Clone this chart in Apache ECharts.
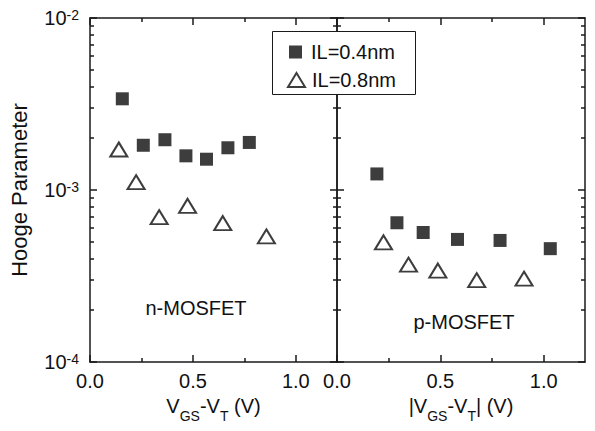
<!DOCTYPE html>
<html><head><meta charset="utf-8">
<script src="https://cdn.jsdelivr.net/npm/echarts@6/dist/echarts.min.js"></script>
<style>html,body{margin:0;padding:0;background:#fff}#c{width:595px;height:431px}</style>
</head><body><div id="c"></div>
<script>
// ---- data ----
const seriesNames = ['IL=0.4nm', 'IL=0.8nm'];
const panelLabels = ['n-MOSFET', 'p-MOSFET'];
const nX04 = [0.157, 0.259, 0.364, 0.466, 0.566, 0.670, 0.774];
const nY04 = [3.39e-3, 1.82e-3, 1.96e-3, 1.58e-3, 1.51e-3, 1.76e-3, 1.89e-3];
const nX08 = [0.140, 0.224, 0.336, 0.474, 0.645, 0.857];
const nY08 = [1.72e-3, 1.11e-3, 6.95e-4, 8.09e-4, 6.42e-4, 5.37e-4];
const pX04 = [0.193, 0.290, 0.417, 0.583, 0.789, 1.032];
const pY04 = [1.24e-3, 6.45e-4, 5.66e-4, 5.16e-4, 5.09e-4, 4.56e-4];
const pX08 = [0.225, 0.346, 0.488, 0.676, 0.905];
const pY08 = [4.96e-4, 3.68e-4, 3.40e-4, 2.99e-4, 3.05e-4];
const xMajor = [0, 0.5, 1.0];
const xMinor = [0.25, 0.75];
const yMajor = [1e-4, 1e-3, 1e-2];
const yMinor = [2e-4, 3e-4, 4e-4, 5e-4, 6e-4, 7e-4, 8e-4, 9e-4, 2e-3, 3e-3, 4e-3, 5e-3, 6e-3, 7e-3, 8e-3, 9e-3];
const xNames = ['{n|V}{s|GS}{n|-V}{s|T}{n| (V)}', '{n||V}{s|GS}{n|-V}{s|T}{n|| (V)}'];
const yName = 'Hooge Parameter';

const INK = '#111';
const FONT = 'Liberation Sans, Arial, sans-serif';
const lineStyle = { color: '#1a1a1a', width: 1.5 };

function pair(xs, ys) { return xs.map((x, i) => [x, ys[i]]); }

function xAxesFor(g) {
  const base = { gridIndex: g, type: 'value', min: 0, max: 1.2, splitLine: { show: false } };
  return [
    Object.assign({}, base, {
      position: 'bottom',
      axisLine: { show: true, onZero: false, lineStyle },
      axisTick: { show: true, inside: true, length: 7, customValues: xMajor, lineStyle },
      axisLabel: { show: true, customValues: xMajor, margin: 9, fontSize: 20, color: INK, fontFamily: FONT,
        formatter: v => Number(v).toFixed(1) },
      name: xNames[g], nameLocation: 'middle', nameGap: 33,
      nameTextStyle: { color: INK, fontFamily: FONT,
        rich: { n: { fontSize: 20, lineHeight: 27, verticalAlign: 'top', color: INK, fontFamily: FONT },
                s: { fontSize: 14, verticalAlign: 'bottom', color: INK, fontFamily: FONT } } }
    }),
    Object.assign({}, base, {
      position: 'bottom',
      axisLine: { show: false, onZero: false },
      axisTick: { show: true, inside: true, length: 4, customValues: xMinor, lineStyle },
      axisLabel: { show: false }
    }),
    Object.assign({}, base, {
      position: 'top',
      axisLine: { show: true, onZero: false, lineStyle },
      axisTick: { show: true, inside: true, length: 7, customValues: xMajor, lineStyle },
      axisLabel: { show: false }
    }),
    Object.assign({}, base, {
      position: 'top',
      axisLine: { show: false, onZero: false },
      axisTick: { show: true, inside: true, length: 4, customValues: xMinor, lineStyle },
      axisLabel: { show: false }
    })
  ];
}

function yAxesFor(g) {
  const base = { gridIndex: g, type: 'log', logBase: 10, min: 1e-4, max: 1e-2, splitLine: { show: false } };
  const left0 = Object.assign({}, base, {
    position: 'left',
    axisLine: { show: true, onZero: false, lineStyle },
    axisTick: { show: true, inside: true, length: 7, customValues: yMajor, lineStyle },
    axisLabel: { show: false }
  });
  if (g === 0) {
    left0.axisLabel = { show: true, customValues: yMajor, margin: 11,
      formatter: v => '{b|10}{p|' + Math.round(Math.log10(v)) + '}',
      rich: { b: { fontSize: 20, lineHeight: 20, verticalAlign: 'bottom', color: INK, fontFamily: FONT },
              p: { fontSize: 14, lineHeight: 14, verticalAlign: 'top', padding: [0, 0, 8, 0], color: INK, fontFamily: FONT } } };
    left0.name = yName;
    left0.nameLocation = 'middle';
    left0.nameGap = 60;
    left0.nameTextStyle = { fontSize: 22, color: INK, fontFamily: FONT };
  }
  return [
    left0,
    Object.assign({}, base, {
      position: 'left',
      axisLine: { show: false, onZero: false },
      axisTick: { show: true, inside: true, length: 4, customValues: yMinor, lineStyle },
      axisLabel: { show: false }
    }),
    Object.assign({}, base, {
      position: 'right',
      axisLine: { show: true, onZero: false, lineStyle },
      axisTick: { show: true, inside: true, length: 7, customValues: yMajor, lineStyle },
      axisLabel: { show: false }
    }),
    Object.assign({}, base, {
      position: 'right',
      axisLine: { show: false, onZero: false },
      axisTick: { show: true, inside: true, length: 4, customValues: yMinor, lineStyle },
      axisLabel: { show: false }
    })
  ];
}

const squareStyle = { symbol: 'rect', symbolSize: 13, itemStyle: { color: '#0d0d0d', borderWidth: 0 } };
const triStyle = { symbol: 'triangle', symbolSize: [17, 14], itemStyle: { color: '#ffffff', borderColor: '#0d0d0d', borderWidth: 2 } };

function scatter(name, g, data, style) {
  return Object.assign({ type: 'scatter', name, xAxisIndex: g * 4, yAxisIndex: g * 4, data, z: 3 }, style);
}

const option = {
  animation: false,
  backgroundColor: '#fff',
  textStyle: { fontFamily: FONT },
  grid: [
    { left: 90, top: 18, width: 247, height: 344 },
    { left: 337, top: 18, width: 248, height: 344 }
  ],
  xAxis: xAxesFor(0).concat(xAxesFor(1)),
  yAxis: yAxesFor(0).concat(yAxesFor(1)),
  legend: [
    { data: [seriesNames[0]], left: 289, top: 42, orient: 'vertical', padding: 0, itemWidth: 13, itemHeight: 13,
      selectedMode: false, z: 6, textStyle: { fontSize: 20, color: INK, fontFamily: FONT, padding: [0, 0, 0, 4] } },
    { data: [seriesNames[1]], left: 287, top: 70, orient: 'vertical', padding: 0, itemWidth: 17, itemHeight: 14,
      selectedMode: false, z: 6, textStyle: { fontSize: 20, color: INK, fontFamily: FONT, padding: [0, 0, 0, 2] } }
  ],
  graphic: [
    { type: 'rect', z: 5, shape: { x: 272.5, y: 31.5, width: 143, height: 63 },
      style: { fill: '#fff', stroke: '#1a1a1a', lineWidth: 1 } },
    { type: 'text', z: 5, x: 196, y: 308, style: { text: panelLabels[0], fontSize: 20, fill: INK, fontFamily: FONT, align: 'center', verticalAlign: 'middle' } },
    { type: 'text', z: 5, x: 464, y: 322, style: { text: panelLabels[1], fontSize: 20, fill: INK, fontFamily: FONT, align: 'center', verticalAlign: 'middle' } }
  ],
  series: [
    scatter(seriesNames[0], 0, pair(nX04, nY04), squareStyle),
    scatter(seriesNames[1], 0, pair(nX08, nY08), triStyle),
    scatter(seriesNames[0], 1, pair(pX04, pY04), squareStyle),
    scatter(seriesNames[1], 1, pair(pX08, pY08), triStyle)
  ]
};

const chart = echarts.init(document.getElementById('c'), null, { renderer: 'svg' });
chart.setOption(option);
</script>
</body></html>
